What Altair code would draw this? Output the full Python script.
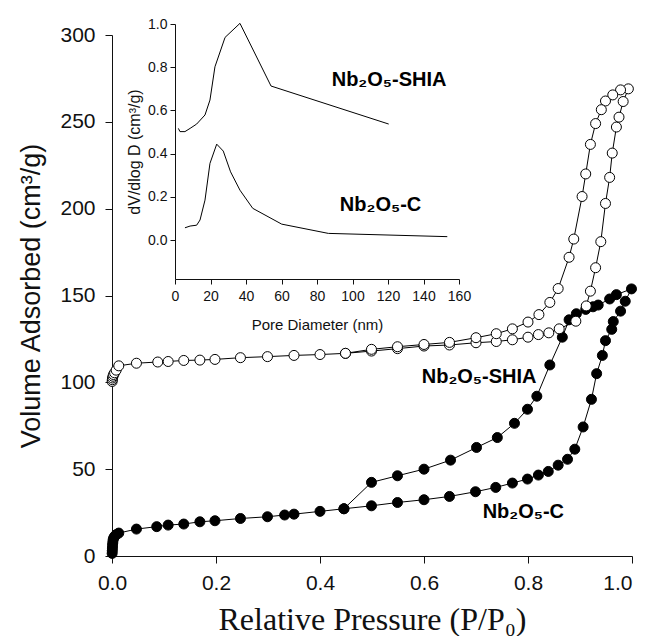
import altair as alt
import pandas as pd

# ---------------- main isotherms (P/P0, volume adsorbed) ----------------
c_ads_p = [0.0003, 0.0005, 0.0008, 0.001, 0.0015, 0.002, 0.003, 0.005, 0.008, 0.013,
           0.047, 0.086, 0.108, 0.138, 0.169, 0.198, 0.247, 0.299, 0.332, 0.35, 0.40, 0.446,
           0.499, 0.549, 0.60, 0.649, 0.699, 0.738, 0.77, 0.799, 0.82, 0.839, 0.858, 0.876,
           0.89, 0.906, 0.922, 0.932, 0.943, 0.949, 0.961, 0.964, 0.978, 0.987, 0.999]
c_ads_v = [1.5, 3.0, 4.5, 6.0, 7.5, 9.0, 10.3, 11.3, 12.3, 13.2,
           15.5, 16.9, 17.8, 18.4, 19.7, 20.3, 21.6, 22.6, 23.6, 24.1, 25.7, 27.2,
           28.9, 30.8, 32.4, 34.3, 37.0, 39.5, 42.0, 44.3, 46.6, 48.7, 52.3, 55.7,
           61.5, 74.3, 90.2, 105.0, 115.5, 124.0, 130.5, 135.0, 141.0, 146.7, 153.8]
c_des_p = [0.97, 0.957, 0.935, 0.925, 0.911, 0.893, 0.879, 0.866, 0.842, 0.817, 0.799,
           0.774, 0.741, 0.701, 0.651, 0.60, 0.549, 0.499, 0.446]
c_des_v = [150.5, 148.0, 144.5, 143.5, 142.0, 139.5, 136.0, 126.0, 110.0, 92.0, 84.5,
           76.4, 68.2, 62.5, 55.2, 50.0, 46.2, 42.4, 27.2]

s_ads_p = [0.0003, 0.0006, 0.001, 0.002, 0.003, 0.005, 0.008, 0.013, 0.047, 0.088, 0.108,
           0.138, 0.169, 0.198, 0.247, 0.299, 0.35, 0.40, 0.449, 0.499, 0.549, 0.60, 0.649,
           0.70, 0.739, 0.77, 0.80, 0.82, 0.84, 0.86, 0.892, 0.912, 0.92, 0.93, 0.94, 0.949,
           0.957, 0.962, 0.97, 0.975, 0.983, 0.993]
s_ads_v = [100.5, 101.5, 102.5, 103.5, 104.5, 105.5, 107.0, 109.5, 111.0, 111.7, 112.0,
           112.6, 112.8, 113.2, 114.2, 114.8, 115.5, 116.0, 116.7, 118.0, 119.4, 120.9, 121.5,
           122.8, 123.5, 124.5, 126.0, 127.5, 128.5, 130.8, 135.2, 144.0, 152.5, 166.0, 181.0, 203.0,
           218.0, 232.0, 247.0, 252.7, 261.7, 269.0]
s_des_p = [0.978, 0.963, 0.949, 0.941, 0.93, 0.92, 0.911, 0.904, 0.888, 0.879, 0.858,
           0.842, 0.821, 0.80, 0.77, 0.739, 0.70, 0.649, 0.60, 0.549, 0.499, 0.449]
s_des_v = [268.4, 265.5, 262.0, 257.0, 249.0, 237.0, 220.0, 207.0, 182.5, 172.0, 154.0,
           146.0, 139.0, 134.7, 130.8, 128.0, 125.7, 123.0, 121.8, 120.5, 119.0, 116.7]

# ---------------- inset pore size distribution ----------------
shia_d = [1.9, 2.8, 5.6, 8.5, 12.2, 16.9, 19.7, 22.5, 28.2, 36.6, 54.1, 120.4]
shia_dv = [0.517, 0.502, 0.502, 0.517, 0.537, 0.579, 0.648, 0.802, 0.938, 1.003, 0.713, 0.537]
c_d = [5.6, 8.5, 12.2, 14.1, 16.9, 19.7, 23.5, 27.2, 31.3, 36.6, 43.8, 60.1, 86.4, 153.4]
c_dv = [0.057, 0.065, 0.069, 0.093, 0.185, 0.355, 0.444, 0.412, 0.316, 0.231, 0.147, 0.074, 0.031, 0.016]

# ---------------- labels ----------------
main_label_text = ["Nb₂O₅-SHIA", "Nb₂O₅-C"]
main_label_p = [0.706, 0.791]
main_label_v = [103.0, 25.3]
inset_label_text = ["Nb₂O₅-SHIA", "Nb₂O₅-C"]
inset_label_d = [120.6, 115.8]
inset_label_dv = [0.74, 0.162]

x_ticks = [0.0, 0.2, 0.4, 0.6, 0.8, 1.0]
y_ticks = [0, 50, 100, 150, 200, 250, 300]
xi_ticks = [0, 20, 40, 60, 80, 100, 120, 140, 160]
yi_ticks = [0.0, 0.2, 0.4, 0.6, 0.8, 1.0]


def path_df(px, py, fx, fy):
    return pd.DataFrame({fx: px, fy: py, "order": list(range(len(px)))})


df_c = path_df(c_ads_p + c_des_p, c_ads_v + c_des_v, "p", "v")
df_s = path_df(s_ads_p + s_des_p, s_ads_v + s_des_v, "p", "v")
df_ic = path_df(c_d, c_dv, "d", "dv")
df_is = path_df(shia_d, shia_dv, "d", "dv")
df_ml = pd.DataFrame({"p": main_label_p, "v": main_label_v, "t": main_label_text})
df_il = pd.DataFrame({"d": inset_label_d, "dv": inset_label_dv, "t": inset_label_text})

FONT = "Liberation Sans, Arial, sans-serif"
SERIF = "Liberation Serif, 'Times New Roman', 'DejaVu Serif', serif"
INK = "#111111"

x_main = alt.X(
    "p:Q",
    scale=alt.Scale(domain=[0, 1], nice=False, zero=False),
    axis=alt.Axis(values=x_ticks, format=".1f", title="Relative Pressure (P/P₀)",
                  titleFont=SERIF, titleFontSize=32, titleFontWeight="normal",
                  titleColor=INK, titlePadding=11,
                  labelFont=FONT, labelFontSize=21, labelColor=INK, labelPadding=9,
                  labelAlign=alt.ExprRef(expr="datum.value >= 0.999 ? 'right' : 'center'"),
                  labelOverlap=False, labelFlush=False,
                  tickSize=7, tickColor=INK, domainColor=INK, grid=False),
)
y_main = alt.Y(
    "v:Q",
    scale=alt.Scale(domain=[0, 300], nice=False, zero=False),
    axis=alt.Axis(values=y_ticks, title="Volume Adsorbed (cm³/g)",
                  titleFont=FONT, titleFontSize=27, titleFontWeight="normal",
                  titleColor=INK, titlePadding=14,
                  labelFont=FONT, labelFontSize=21, labelColor=INK, labelPadding=10,
                  labelOverlap=False,
                  tickSize=7, tickColor=INK, domainColor=INK, grid=False),
)

x_in = alt.X(
    "d:Q",
    scale=alt.Scale(domain=[0, 160], range=[63, 347], nice=False, zero=False),
    axis=alt.Axis(orient="bottom", offset=-277, values=xi_ticks, title="Pore Diameter (nm)",
                  titleFont=FONT, titleFontSize=15, titleFontWeight="normal", titleColor=INK,
                  titlePadding=14,
                  labelFont=FONT, labelFontSize=14, labelColor=INK, labelPadding=5,
                  labelOverlap=False, labelFlush=False,
                  tickSize=5, tickColor=INK, domainColor=INK, grid=False),
)
y_in = alt.Y(
    "dv:Q",
    scale=alt.Scale(domain=[-0.18, 1.0], range=[244, -11], nice=False, zero=False),
    axis=alt.Axis(orient="left", offset=-63, values=yi_ticks, format=".1f",
                  title="dV/dlog D (cm³/g)",
                  titleFont=FONT, titleFontSize=16, titleFontWeight="normal", titleColor=INK,
                  titlePadding=5,
                  labelFont=FONT, labelFontSize=14, labelColor=INK, labelPadding=3,
                  labelOverlap=False,
                  tickSize=5, tickColor=INK, domainColor=INK, grid=False),
)

line_kw = dict(color="black", strokeWidth=1)
pt_kw = dict(shape="circle", size=100, filled=True, stroke="black", strokeWidth=1, opacity=1)

c_line = alt.Chart(df_c).mark_line(**line_kw).encode(x=x_main, y=y_main, order="order:Q")
s_line = alt.Chart(df_s).mark_line(**line_kw).encode(x=x_main, y=y_main, order="order:Q")
c_pts = alt.Chart(df_c).mark_point(fill="black", **pt_kw).encode(x=x_main, y=y_main)
s_pts = alt.Chart(df_s).mark_point(fill="white", **pt_kw).encode(x=x_main, y=y_main)
main_txt = alt.Chart(df_ml).mark_text(font=FONT, fontWeight="bold", fontSize=20,
                                      align="center", baseline="middle", color="black").encode(
    x=x_main, y=y_main, text="t:N")

main = alt.layer(s_line, c_line, c_pts, s_pts, main_txt)

ic_line = alt.Chart(df_ic).mark_line(**line_kw).encode(x=x_in, y=y_in, order="order:Q")
is_line = alt.Chart(df_is).mark_line(**line_kw).encode(x=x_in, y=y_in, order="order:Q")
in_txt = alt.Chart(df_il).mark_text(font=FONT, fontWeight="bold", fontSize=20,
                                    align="center", baseline="middle", color="black").encode(
    x=x_in, y=y_in, text="t:N")
inset = alt.layer(is_line, ic_line, in_txt)

chart = alt.layer(main, inset).resolve_scale(x="independent", y="independent").properties(
    width=520, height=521,
    autosize=alt.AutoSizeParams(type="none"),
    padding={"left": 104, "top": 27, "right": 9, "bottom": 80},
    background="white",
).configure_view(stroke=None)

chart.save("out.html", embed_options={"renderer": "svg", "actions": False})
